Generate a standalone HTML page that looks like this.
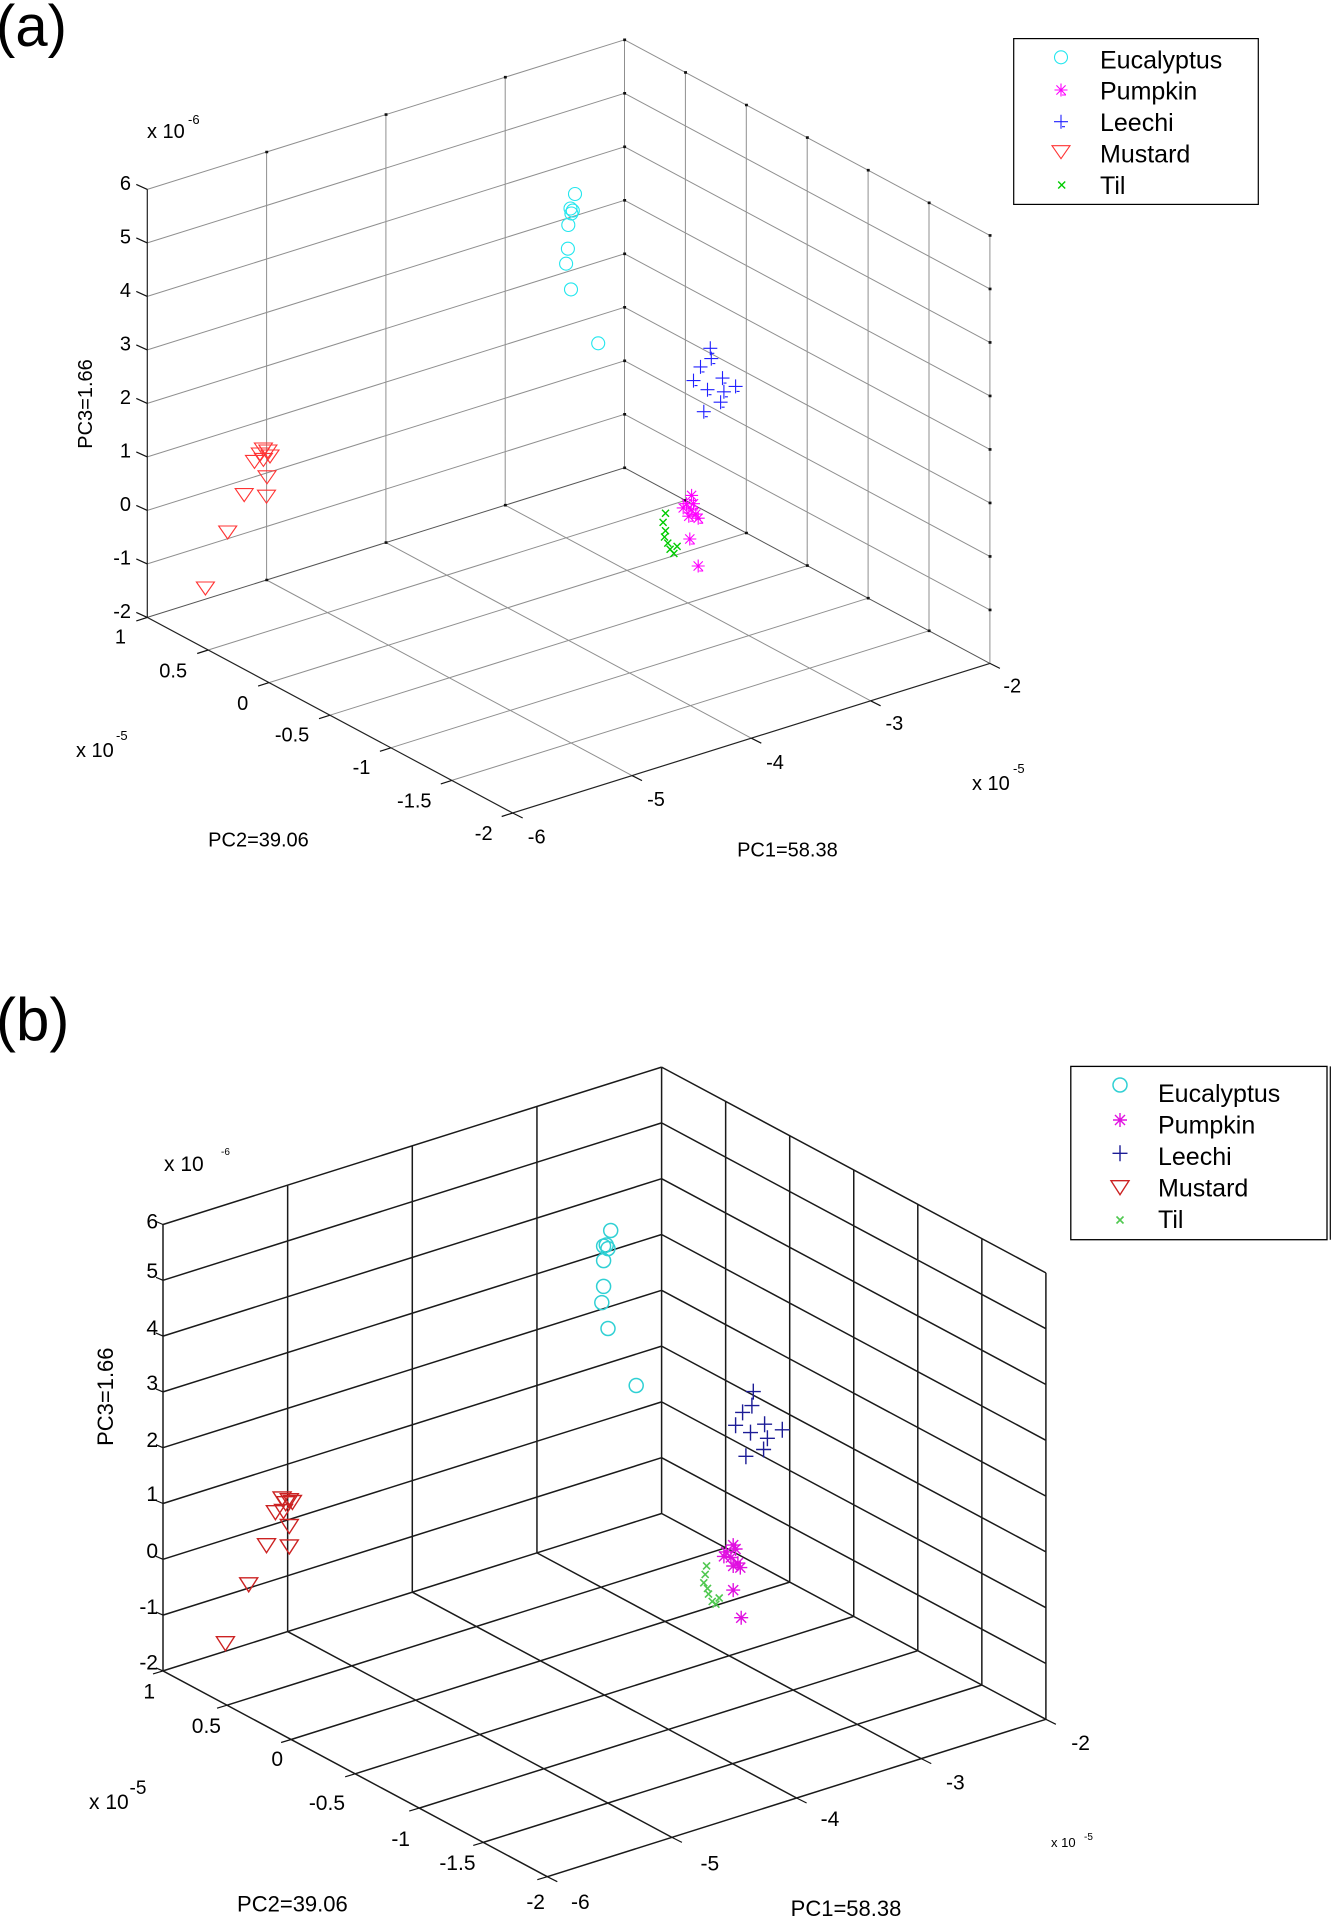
<!DOCTYPE html>
<html><head><meta charset="utf-8"><style>
html,body{margin:0;padding:0;background:#fff;}
svg{display:block;}
text{font-family:"Liberation Sans",Arial,sans-serif;fill:#000;}
</style></head><body>
<svg width="1333" height="1922" viewBox="0 0 1333 1922" xmlns="http://www.w3.org/2000/svg">
<defs>
<circle id="ca" r="6.5" fill="none" stroke="#22e6ee" stroke-width="1.1"/>
<path id="sa" d="M-6.5,0H6.5M0,-6.5V6.5M-4.6,-4.6L4.6,4.6M-4.6,4.6L4.6,-4.6M1,5h4" fill="none" stroke="#ff00ff" stroke-width="1.1"/>
<path id="pa" d="M-7,0H7M0,-7V7M1,5h3" fill="none" stroke="#2020ff" stroke-width="1.1"/>
<path id="ta" d="M-9,-6H9L0,7Z" fill="none" stroke="#ff3333" stroke-width="1.1"/>
<path id="xa" d="M-3.5,-3.5L3.5,3.5M-3.5,3.5L3.5,-3.5" fill="none" stroke="#00cc00" stroke-width="1.4"/>
<circle id="cb" r="7" fill="none" stroke="#30d0d4" stroke-width="1.5"/>
<path id="sb" d="M-7,0H7M0,-7V7M-5,-5L5,5M-5,5L5,-5" fill="none" stroke="#e010e0" stroke-width="1.4"/>
<path id="pb" d="M-7.5,0H7.5M0,-8V8" fill="none" stroke="#1c1c96" stroke-width="1.4"/>
<path id="tb" d="M-9,-6H9L0,8Z" fill="none" stroke="#cc2222" stroke-width="1.4"/>
<path id="xb" d="M-3.5,-3.5L3.5,3.5M-3.5,3.5L3.5,-3.5" fill="none" stroke="#50c850" stroke-width="1.6"/>
</defs>

<!-- ================= PANEL (a) ================= -->
<text x="-4" y="46" font-size="58">(a)</text>

<path fill="none" stroke="#8f8f8f" stroke-width="1" d="
M266.6 152V580 M385.9 114.6V542.6 M505.2 77.2V505.2 M624.5 39.8V467.8
M147.3 189.4L624.5 39.8 M147.3 242.9L624.5 93.3 M147.3 296.4L624.5 146.8 M147.3 349.9L624.5 200.3 M147.3 403.4L624.5 253.8 M147.3 456.9L624.5 307.3 M147.3 510.4L624.5 360.8 M147.3 563.9L624.5 414.3
M685.4 72.4V500.4 M746.3 105V533 M807.2 137.6V565.6 M868.1 170.2V598.2 M929 202.8V630.8 M989.9 235.4V663.4
M624.5 39.8L989.9 235.4 M624.5 93.3L989.9 288.9 M624.5 146.8L989.9 342.4 M624.5 200.3L989.9 395.9 M624.5 253.8L989.9 449.4 M624.5 307.3L989.9 502.9 M624.5 360.8L989.9 556.4 M624.5 414.3L989.9 609.9
M266.6 580L632 775.6 M385.9 542.6L751.3 738.2 M505.2 505.2L870.6 700.8
M208.2 650L685.4 500.4 M269.1 682.6L746.3 533 M330 715.2L807.2 565.6 M390.9 747.8L868.1 598.2 M451.8 780.4L929 630.8"/>
<path fill="none" stroke="#555" stroke-width="1" d="M147.3 617.4L624.5 467.8L989.9 663.4"/>
<path fill="none" stroke="#222" stroke-width="1.2" d="M147.3 189.4V617.4L512.7 813L989.9 663.4"/>
<!-- ticks -->
<path fill="none" stroke="#111" stroke-width="1.2" d="
M147.3 189.4l-11 -5 M147.3 242.9l-11 -5 M147.3 296.4l-11 -5 M147.3 349.9l-11 -5 M147.3 403.4l-11 -5 M147.3 456.9l-11 -5 M147.3 510.4l-11 -5 M147.3 563.9l-11 -5 M147.3 617.4l-11 -5
M147.3 617.4l-11 3.5 M208.2 650l-11 3.5 M269.1 682.6l-11 3.5 M330 715.2l-11 3.5 M390.9 747.8l-11 3.5 M451.8 780.4l-11 3.5 M512.7 813l-11 3.5
M512.7 813l10 5 M632 775.6l10 5 M751.3 738.2l10 5 M870.6 700.8l10 5 M989.9 663.4l10 5"/>
<path fill="none" stroke="#111" stroke-width="2.6" stroke-linecap="square" d="
M266.6 152h0.3 M385.9 114.6h0.3 M505.2 77.2h0.3 M624.5 39.8h0.3
M685.4 72.4h0.3 M746.3 105h0.3 M807.2 137.6h0.3 M868.1 170.2h0.3 M929 202.8h0.3 M989.9 235.4h0.3
M989.9 288.9h0.3 M989.9 342.4h0.3 M989.9 395.9h0.3 M989.9 449.4h0.3 M989.9 502.9h0.3 M989.9 556.4h0.3 M989.9 609.9h0.3
M624.5 93.3h0.3 M624.5 146.8h0.3 M624.5 200.3h0.3 M624.5 253.8h0.3 M624.5 307.3h0.3 M624.5 360.8h0.3 M624.5 414.3h0.3 M624.5 467.8h0.3
M266.6 580h0.3 M385.9 542.6h0.3 M505.2 505.2h0.3
M685.4 500.4h0.3 M746.3 533h0.3 M807.2 565.6h0.3 M868.1 598.2h0.3 M929 630.8h0.3"/>

<!-- z tick labels (a) -->
<g font-size="20" text-anchor="end">
<text x="131" y="190">6</text>
<text x="131" y="243.5">5</text>
<text x="131" y="297">4</text>
<text x="131" y="350.5">3</text>
<text x="131" y="404">2</text>
<text x="131" y="457.5">1</text>
<text x="131" y="511">0</text>
<text x="131" y="564.5">-1</text>
<text x="131" y="618">-2</text>
</g>
<text x="147" y="138" font-size="20">x 10</text>
<text x="188" y="124" font-size="13">-6</text>
<text transform="translate(92,404) rotate(-90)" font-size="20" text-anchor="middle">PC3=1.66</text>

<!-- PC2 labels (a) -->
<g font-size="20" text-anchor="end">
<text x="126" y="643.5">1</text>
<text x="187.1" y="677.5">0.5</text>
<text x="248.2" y="710.2">0</text>
<text x="309.3" y="741.5">-0.5</text>
<text x="370.4" y="774.2">-1</text>
<text x="431.5" y="807.5">-1.5</text>
<text x="492.6" y="840.2">-2</text>
</g>
<text x="76" y="757" font-size="20">x 10</text>
<text x="116" y="740" font-size="13">-5</text>
<text x="258.5" y="846.5" font-size="20" text-anchor="middle">PC2=39.06</text>

<!-- PC1 labels (a) -->
<g font-size="20" text-anchor="middle">
<text x="536.7" y="843.5">-6</text>
<text x="656" y="805.8">-5</text>
<text x="775" y="769.2">-4</text>
<text x="894.4" y="730.2">-3</text>
<text x="1012.3" y="692.5">-2</text>
</g>
<text x="972" y="790" font-size="20">x 10</text>
<text x="1013" y="773" font-size="13">-5</text>
<text x="787.4" y="856.5" font-size="20" text-anchor="middle">PC1=58.38</text>

<!-- data (a) -->
<g>
<use href="#ca" x="575" y="194"/><use href="#ca" x="570.5" y="208.5"/><use href="#ca" x="572.8" y="210.6"/><use href="#ca" x="571.4" y="213.5"/><use href="#ca" x="568.3" y="225"/><use href="#ca" x="567.9" y="248.7"/><use href="#ca" x="566.1" y="263.7"/><use href="#ca" x="571" y="289.4"/><use href="#ca" x="598.2" y="343.3"/>
<use href="#ta" x="263.4" y="449"/><use href="#ta" x="267.9" y="451"/><use href="#ta" x="260.3" y="454"/><use href="#ta" x="270" y="456"/><use href="#ta" x="254.5" y="461.4"/><use href="#ta" x="263.4" y="459.4"/><use href="#ta" x="267" y="476.8"/><use href="#ta" x="244.2" y="494.6"/><use href="#ta" x="266.5" y="496.2"/><use href="#ta" x="227.7" y="532"/><use href="#ta" x="205.4" y="588"/>
<use href="#pa" x="710.3" y="348.3"/><use href="#pa" x="711.3" y="358.6"/><use href="#pa" x="700.5" y="366.9"/><use href="#pa" x="693.5" y="380.6"/><use href="#pa" x="722.5" y="378.1"/><use href="#pa" x="707.5" y="389.7"/><use href="#pa" x="735.6" y="386.4"/><use href="#pa" x="723.9" y="391.8"/><use href="#pa" x="720.6" y="402.2"/><use href="#pa" x="703.8" y="411.7"/>
<use href="#xa" x="665.5" y="513.3"/><use href="#xa" x="663.1" y="522.4"/><use href="#xa" x="665.5" y="530.7"/><use href="#xa" x="664.5" y="537"/><use href="#xa" x="667.8" y="543.1"/><use href="#xa" x="670.1" y="549.3"/><use href="#xa" x="677.1" y="546.4"/><use href="#xa" x="673.9" y="553.5"/>
<use href="#sa" x="691.6" y="495.4"/><use href="#sa" x="686.5" y="503.7"/><use href="#sa" x="693.5" y="503.7"/><use href="#sa" x="683.2" y="507.9"/><use href="#sa" x="691.2" y="510"/><use href="#sa" x="695.8" y="514.1"/><use href="#sa" x="688.8" y="516.2"/><use href="#sa" x="698.2" y="518.2"/><use href="#sa" x="689.8" y="539"/><use href="#sa" x="698.2" y="566"/>
</g>

<!-- legend (a) -->
<rect x="1013.7" y="38.6" width="244.6" height="165.8" fill="#fff" stroke="#000" stroke-width="1.2"/>
<use href="#ca" x="1061" y="57.3"/>
<use href="#sa" x="1061" y="90"/>
<use href="#pa" x="1061" y="121.7"/>
<use href="#ta" x="1061" y="151.7"/>
<use href="#xa" x="1061.7" y="185"/>
<g font-size="25">
<text x="1100" y="68.4">Eucalyptus</text>
<text x="1100" y="99.6">Pumpkin</text>
<text x="1100" y="131.2">Leechi</text>
<text x="1100" y="162.4">Mustard</text>
<text x="1100" y="194">Til</text>
</g>

<!-- ================= PANEL (b) ================= -->
<text x="-4" y="1040" font-size="60">(b)</text>

<path fill="none" stroke="#1a1a1a" stroke-width="1.5" d="
M287.65 1185.15V1631.55 M412.3 1145.8V1592.2 M536.95 1106.45V1552.85 M661.6 1067.1V1513.5
M163 1224.5L661.6 1067.1 M163 1280.3L661.6 1122.9 M163 1336.1L661.6 1178.7 M163 1391.9L661.6 1234.5 M163 1447.7L661.6 1290.3 M163 1503.5L661.6 1346.1 M163 1559.3L661.6 1401.9 M163 1615.1L661.6 1457.7 M163 1670.9L661.6 1513.5
M725.65 1101.4V1547.8 M789.7 1135.7V1582.1 M853.75 1170V1616.4 M917.8 1204.3V1650.7 M981.85 1238.6V1685 M1045.9 1272.9V1719.3
M661.6 1067.1L1045.9 1272.9 M661.6 1122.9L1045.9 1328.7 M661.6 1178.7L1045.9 1384.5 M661.6 1234.5L1045.9 1440.3 M661.6 1290.3L1045.9 1496.1 M661.6 1346.1L1045.9 1551.9 M661.6 1401.9L1045.9 1607.7 M661.6 1457.7L1045.9 1663.5 M661.6 1513.5L1045.9 1719.3
M287.65 1631.55L671.95 1837.35 M412.3 1592.2L796.6 1798 M536.95 1552.85L921.25 1758.65
M227.05 1705.2L725.65 1547.8 M291.1 1739.5L789.7 1582.1 M355.15 1773.8L853.75 1616.4 M419.2 1808.1L917.8 1650.7 M483.25 1842.4L981.85 1685
M163 1224.5V1670.9L547.3 1876.7L1045.9 1719.3"/>
<path fill="none" stroke="#111" stroke-width="1.2" d="
M163 1224.5l-7 -3 M163 1280.3l-7 -3 M163 1336.1l-7 -3 M163 1391.9l-7 -3 M163 1447.7l-7 -3 M163 1503.5l-7 -3 M163 1559.3l-7 -3 M163 1615.1l-7 -3 M163 1670.9l-7 -3
M163 1670.9l-10 3 M227.05 1705.2l-10 3 M291.1 1739.5l-10 3 M355.15 1773.8l-10 3 M419.2 1808.1l-10 3 M483.25 1842.4l-10 3 M547.3 1876.7l-10 3
M547.3 1876.7l10 5 M671.95 1837.35l10 5 M796.6 1798l10 5 M921.25 1758.65l10 5 M1045.9 1719.3l10 5"/>

<g font-size="21" text-anchor="end">
<text x="158" y="1228.3">6</text>
<text x="158" y="1278">5</text>
<text x="158" y="1334.8">4</text>
<text x="158" y="1390">3</text>
<text x="158" y="1447.1">2</text>
<text x="158" y="1501.2">1</text>
<text x="158" y="1558.2">0</text>
<text x="158" y="1614.1">-1</text>
<text x="158" y="1669.4">-2</text>
</g>
<text x="164" y="1171" font-size="21">x 10</text>
<text x="221" y="1155" font-size="10">-6</text>
<text transform="translate(113,1396.7) rotate(-90)" font-size="22" text-anchor="middle">PC3=1.66</text>

<g font-size="21" text-anchor="end">
<text x="155" y="1698.7">1</text>
<text x="221" y="1733">0.5</text>
<text x="283" y="1766">0</text>
<text x="345" y="1809.9">-0.5</text>
<text x="410" y="1845.9">-1</text>
<text x="475.5" y="1869.9">-1.5</text>
<text x="545" y="1909">-2</text>
</g>
<text x="89" y="1809" font-size="21">x 10</text>
<text x="129.5" y="1794" font-size="19">-5</text>
<text x="292.4" y="1911.5" font-size="22" text-anchor="middle">PC2=39.06</text>

<g font-size="21" text-anchor="middle">
<text x="580.4" y="1909">-6</text>
<text x="709.9" y="1870.4">-5</text>
<text x="830" y="1826">-4</text>
<text x="955.3" y="1789.4">-3</text>
<text x="1080.6" y="1750">-2</text>
</g>
<text x="1051" y="1847" font-size="13">x 10</text>
<text x="1084" y="1840" font-size="10">-5</text>
<text x="846" y="1916" font-size="22" text-anchor="middle">PC1=58.38</text>

<!-- data (b) -->
<g>
<use href="#cb" x="610.7" y="1230.5"/><use href="#cb" x="603.6" y="1246.1"/><use href="#cb" x="608" y="1248.6"/><use href="#cb" x="606.3" y="1245"/><use href="#cb" x="603.6" y="1260.6"/><use href="#cb" x="603.6" y="1286.4"/><use href="#cb" x="601.8" y="1302.6"/><use href="#cb" x="608" y="1328.5"/><use href="#cb" x="636.2" y="1385.5"/>
<use href="#tb" x="282.1" y="1497.9"/><use href="#tb" x="289.3" y="1499.7"/><use href="#tb" x="292.4" y="1501.5"/><use href="#tb" x="285.7" y="1502.7"/><use href="#tb" x="275.4" y="1511.7"/><use href="#tb" x="283.5" y="1510.5"/><use href="#tb" x="289.3" y="1525.5"/><use href="#tb" x="266.5" y="1544.7"/><use href="#tb" x="289.3" y="1545.9"/><use href="#tb" x="248.7" y="1583.8"/><use href="#tb" x="225.4" y="1642.7"/>
<use href="#pb" x="753.3" y="1391.6"/><use href="#pb" x="751.9" y="1405.6"/><use href="#pb" x="742.6" y="1412.4"/><use href="#pb" x="735.6" y="1425.3"/><use href="#pb" x="750.5" y="1432.6"/><use href="#pb" x="764.6" y="1424.2"/><use href="#pb" x="767.4" y="1438.3"/><use href="#pb" x="782.3" y="1429.8"/><use href="#pb" x="763.6" y="1449.5"/><use href="#pb" x="745.9" y="1456.3"/>
<use href="#xb" x="706.6" y="1565.9"/><use href="#xb" x="705.2" y="1574.4"/><use href="#xb" x="703.8" y="1582.8"/><use href="#xb" x="707.5" y="1588.4"/><use href="#xb" x="708.5" y="1594.1"/><use href="#xb" x="712.2" y="1601.4"/><use href="#xb" x="719.2" y="1598"/><use href="#xb" x="715.9" y="1604.2"/>
<use href="#sb" x="733.2" y="1545.1"/><use href="#sb" x="726.2" y="1551.9"/><use href="#sb" x="735.6" y="1549"/><use href="#sb" x="723.9" y="1556.4"/><use href="#sb" x="730.9" y="1557.5"/><use href="#sb" x="737.9" y="1563.1"/><use href="#sb" x="733.2" y="1566"/><use href="#sb" x="740.3" y="1567.6"/><use href="#sb" x="733.2" y="1590.1"/><use href="#sb" x="741.2" y="1617.7"/>
</g>

<!-- legend (b) -->
<rect x="1070.8" y="1066.4" width="256.2" height="173.3" fill="#fff" stroke="#000" stroke-width="1.3"/>
<path d="M1330.3 1066.4V1239.7" stroke="#000" stroke-width="1.2"/>
<use href="#cb" x="1120" y="1085"/>
<use href="#sb" x="1120" y="1120"/>
<use href="#pb" x="1120" y="1153.3"/>
<use href="#tb" x="1120" y="1186.7"/>
<use href="#xb" x="1120" y="1220"/>
<g font-size="25">
<text x="1158" y="1101.9">Eucalyptus</text>
<text x="1158" y="1133.4">Pumpkin</text>
<text x="1158" y="1164.9">Leechi</text>
<text x="1158" y="1196.4">Mustard</text>
<text x="1158" y="1227.9">Til</text>
</g>
</svg>
</body></html>
